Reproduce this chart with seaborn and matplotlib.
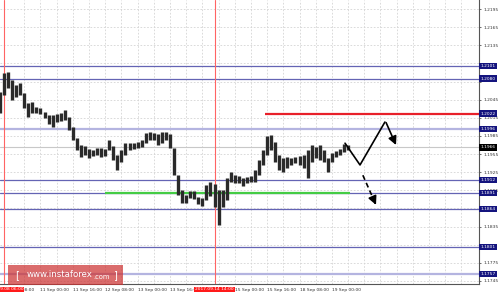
import matplotlib
matplotlib.use("Agg")
import matplotlib.pyplot as plt
import matplotlib.transforms as mtransforms
from matplotlib.patches import Rectangle
import seaborn as sns
import pandas as pd

# ---------------- data ----------------
bar_index = [0, 2, 4, 6, 8, 10, 12, 14, 16, 18, 20, 22, 24, 26, 28, 30, 32, 34, 36, 38,
             40, 42, 44, 46, 48, 50, 52, 54, 56, 58, 60, 62, 64, 66, 68, 70, 72, 74, 76, 78,
             80, 82, 84, 86, 88, 90, 92, 94, 96, 98, 100, 102, 104, 106, 108, 110, 112, 114,
             116, 118, 120, 122, 124, 126, 128, 130, 132, 134, 136, 138, 140, 142, 144, 146,
             148, 150, 152, 154, 156, 158, 160, 162, 164, 166, 168, 170, 172]
highs = [1.2058, 1.2089, 1.2091, 1.2078, 1.2069, 1.2073, 1.2056, 1.2040, 1.2041, 1.2033,
         1.2031, 1.2025, 1.2020, 1.2020, 1.2021, 1.2023, 1.2028, 1.2016, 1.2000, 1.1982,
         1.1970, 1.1968, 1.1963, 1.1962, 1.1965, 1.1965, 1.1963, 1.1978, 1.1968, 1.1953,
         1.1962, 1.1973, 1.1973, 1.1973, 1.1975, 1.1978, 1.1990, 1.1992, 1.1990, 1.1988,
         1.1992, 1.1992, 1.1988, 1.1965, 1.1920, 1.1896, 1.1887, 1.1894, 1.1894, 1.1884,
         1.1882, 1.1904, 1.1909, 1.1905, 1.1896, 1.1896, 1.1915, 1.1925, 1.1920, 1.1919,
         1.1915, 1.1917, 1.1919, 1.1929, 1.1945, 1.1962, 1.1985, 1.1987, 1.1975, 1.1953,
         1.1948, 1.1950, 1.1948, 1.1950, 1.1952, 1.1953, 1.1962, 1.1970, 1.1967, 1.1970,
         1.1962, 1.1948, 1.1957, 1.1960, 1.1963, 1.1972, 1.1970]
lows = [1.2023, 1.2053, 1.2064, 1.2045, 1.2050, 1.2053, 1.2031, 1.2016, 1.2023, 1.2023,
        1.2021, 1.2015, 1.2005, 1.2000, 1.2008, 1.2010, 1.2011, 1.1995, 1.1978, 1.1962,
        1.1950, 1.1953, 1.1948, 1.1952, 1.1953, 1.1950, 1.1952, 1.1962, 1.1945, 1.1929,
        1.1942, 1.1953, 1.1962, 1.1963, 1.1965, 1.1967, 1.1973, 1.1978, 1.1978, 1.1970,
        1.1973, 1.1978, 1.1965, 1.1920, 1.1887, 1.1874, 1.1874, 1.1882, 1.1881, 1.1872,
        1.1869, 1.1879, 1.1886, 1.1867, 1.1838, 1.1867, 1.1879, 1.1909, 1.1907, 1.1907,
        1.1902, 1.1907, 1.1909, 1.1909, 1.1920, 1.1937, 1.1953, 1.1962, 1.1942, 1.1929,
        1.1925, 1.1932, 1.1937, 1.1940, 1.1937, 1.1932, 1.1915, 1.1942, 1.1948, 1.1945,
        1.1942, 1.1925, 1.1942, 1.1950, 1.1953, 1.1958, 1.1962]

blue_levels = [1.2101, 1.2080, 1.1912, 1.1891, 1.1864, 1.1801]
light_levels = [1.1996, 1.1757]
red_level = 1.2022
red_level_start = 131
green_level = 1.1891
green_level_span = [52, 173]
current_price = 1.1966
marker_bars = [2, 106]
marker_labels = ["2017.09.08 06:00", "2017.09.14 14:00"]

# projected scenario
path_x = [170.5, 177.9, 190.2]
path_y = [1.1973, 1.1937, 1.2008]
arrow1_x = [190.8, 195.7]
arrow1_y = [1.2007, 1.1970]
arrow2_x = [179.3, 185.8]
arrow2_y = [1.1920, 1.1871]

ytick_values = [1.2195, 1.2165, 1.2135, 1.2105, 1.2075, 1.2045, 1.2015, 1.1985, 1.1955,
                1.1925, 1.1895, 1.1865, 1.1835, 1.1805, 1.1775, 1.1745]
ytick_labels = ["1.2195", "1.2165", "1.2135", "", "", "1.2045", "1.2015", "1.1985", "1.1955",
                "1.1925", "1.1895", "", "1.1835", "", "1.1775", "1.1745"]
xtick_bars = [4, 20, 36, 52, 68, 84, 100, 116, 132, 148, 164]
xtick_labels = ["8 Sep 08:00", "11 Sep 00:00", "11 Sep 16:00", "12 Sep 08:00", "13 Sep 00:00",
                "13 Sep 16:00", "", "15 Sep 00:00", "15 Sep 16:00",
                "18 Sep 08:00", "19 Sep 00:00"]
grid_bars = [12, 20, 28, 36, 44, 52, 60, 68, 76, 84, 92, 100, 108, 116, 124, 132, 140,
             148, 156, 164, 172, 180, 188, 196, 204, 212, 220, 228]

# ---------------- figure ----------------
sns.set_style("white")
plt.rcParams['font.family'] = ['DejaVu Sans']

fig = plt.figure(figsize=(5.0, 2.94), dpi=100)
W, H = 500, 294
ax = fig.add_axes([0, 10 / H, 479 / W, 284 / H])
ax.set_xlim(0, 236.7)
ax.set_ylim(1.1740, 1.2210)

# grid
for g in grid_bars:
    ax.axvline(g, color="#d4d4d4", lw=0.6, ls=(0, (2, 2)), zorder=0)
for t in ytick_values:
    ax.axhline(t, color="#d4d4d4", lw=0.6, ls=(0, (2, 2)), zorder=0)

# levels
ax.axhline(current_price, color="#c8c8c8", lw=0.8, zorder=1)
for lv in blue_levels:
    ax.axhline(lv, color="#6464b4", lw=0.9, zorder=1)
for lv in light_levels:
    ax.axhline(lv, color="#b4b4e0", lw=1.6, zorder=1)
ax.hlines(red_level, red_level_start, 236.7, color="#e8202a", lw=1.6, zorder=2)
ax.hlines(green_level, green_level_span[0], green_level_span[1], color="#44cc44", lw=1.6, zorder=2)
for mb in marker_bars:
    ax.axvline(mb, color="#ff6464", lw=0.8, zorder=1)

# candles (high-low ranges)
ax.vlines(bar_index, lows, highs, color="#2a2a2a", lw=2.4, zorder=3)

# projection path
proj = pd.DataFrame({"bar": path_x, "price": path_y})
sns.lineplot(data=proj, x="bar", y="price", color="black", lw=1.2, sort=False, ax=ax, zorder=4)
ax.annotate("", xy=(arrow1_x[1], arrow1_y[1]), xytext=(arrow1_x[0], arrow1_y[0]),
            arrowprops=dict(arrowstyle="-|>,head_length=0.5,head_width=0.25", color="black",
                            lw=1.2, shrinkA=0, shrinkB=0), zorder=4)
ax.plot([arrow2_x[0], arrow2_x[1]], [arrow2_y[0], arrow2_y[1]], color="black", lw=1.2,
        ls=(0, (3, 2)), zorder=4)
ax.annotate("", xy=(arrow2_x[1], arrow2_y[1]),
            xytext=(arrow2_x[1] - 0.5, arrow2_y[1] + 0.00038),
            arrowprops=dict(arrowstyle="-|>,head_length=0.5,head_width=0.25", color="black",
                            lw=1.2, shrinkA=0, shrinkB=0), zorder=4)

# axes styling
for s in ["top", "left"]:
    ax.spines[s].set_visible(False)
for s in ["right", "bottom"]:
    ax.spines[s].set_color("#555555")
    ax.spines[s].set_linewidth(0.8)
ax.set_xlabel("")
ax.set_ylabel("")
ax.yaxis.tick_right()
ax.set_yticks(ytick_values)
ax.set_yticklabels(ytick_labels)
ax.tick_params(axis="y", labelsize=3.2, colors="#333333", length=1.5, width=0.5, pad=1.5)
ax.set_xticks(xtick_bars)
ax.set_xticklabels(xtick_labels)
ax.tick_params(axis="x", labelsize=3.2, colors="#333333", length=2, width=0.5, pad=1.0)
for lab in ax.get_xticklabels():
    lab.set_ha("left")

# right-side level labels
ytrans = mtransforms.blended_transform_factory(ax.transAxes, ax.transData)
box_levels = blue_levels + light_levels + [red_level]
for lv in box_levels:
    ax.text(1.003, lv, f"{lv:.4f}", transform=ytrans, fontsize=3.2, color="white",
            ha="left", va="center", clip_on=False, zorder=10,
            bbox=dict(boxstyle="square,pad=0.25", fc="#14147e", ec="none"))
ax.text(1.003, current_price, f"{current_price:.4f}", transform=ytrans, fontsize=3.2,
        color="white", ha="left", va="center", clip_on=False, zorder=10,
        bbox=dict(boxstyle="square,pad=0.25", fc="black", ec="none"))

# bottom date markers
xtrans = mtransforms.blended_transform_factory(ax.transData, ax.transAxes)
for mb, ml in zip(marker_bars, marker_labels):
    ax.text(mb, -0.012, ml, transform=xtrans, fontsize=3.2, color="white",
            ha="center", va="top", clip_on=False, zorder=10,
            bbox=dict(boxstyle="square,pad=0.2", fc="#ff1a1a", ec="none"))

# watermark
ax.add_patch(Rectangle((8 / 479, -0.004), 115 / 479, 0.072, transform=ax.transAxes,
                       fc="#cc3333", ec="none", alpha=0.72, clip_on=False, zorder=11))
ax.text(15 / 479, 0.032, "[", transform=ax.transAxes, fontsize=7, color="white",
        ha="left", va="center", zorder=12, clip_on=False)
ax.text(27 / 479, 0.032, "www.instaforex", transform=ax.transAxes, fontsize=6.2,
        color="white", ha="left", va="center", zorder=12, clip_on=False)
ax.text(93 / 479, 0.026, ".com", transform=ax.transAxes, fontsize=4.8, color="white",
        ha="left", va="center", zorder=12, clip_on=False)
ax.text(113 / 479, 0.032, "]", transform=ax.transAxes, fontsize=7, color="white",
        ha="left", va="center", zorder=12, clip_on=False)

fig.savefig("out.png", dpi=100, facecolor="white")
